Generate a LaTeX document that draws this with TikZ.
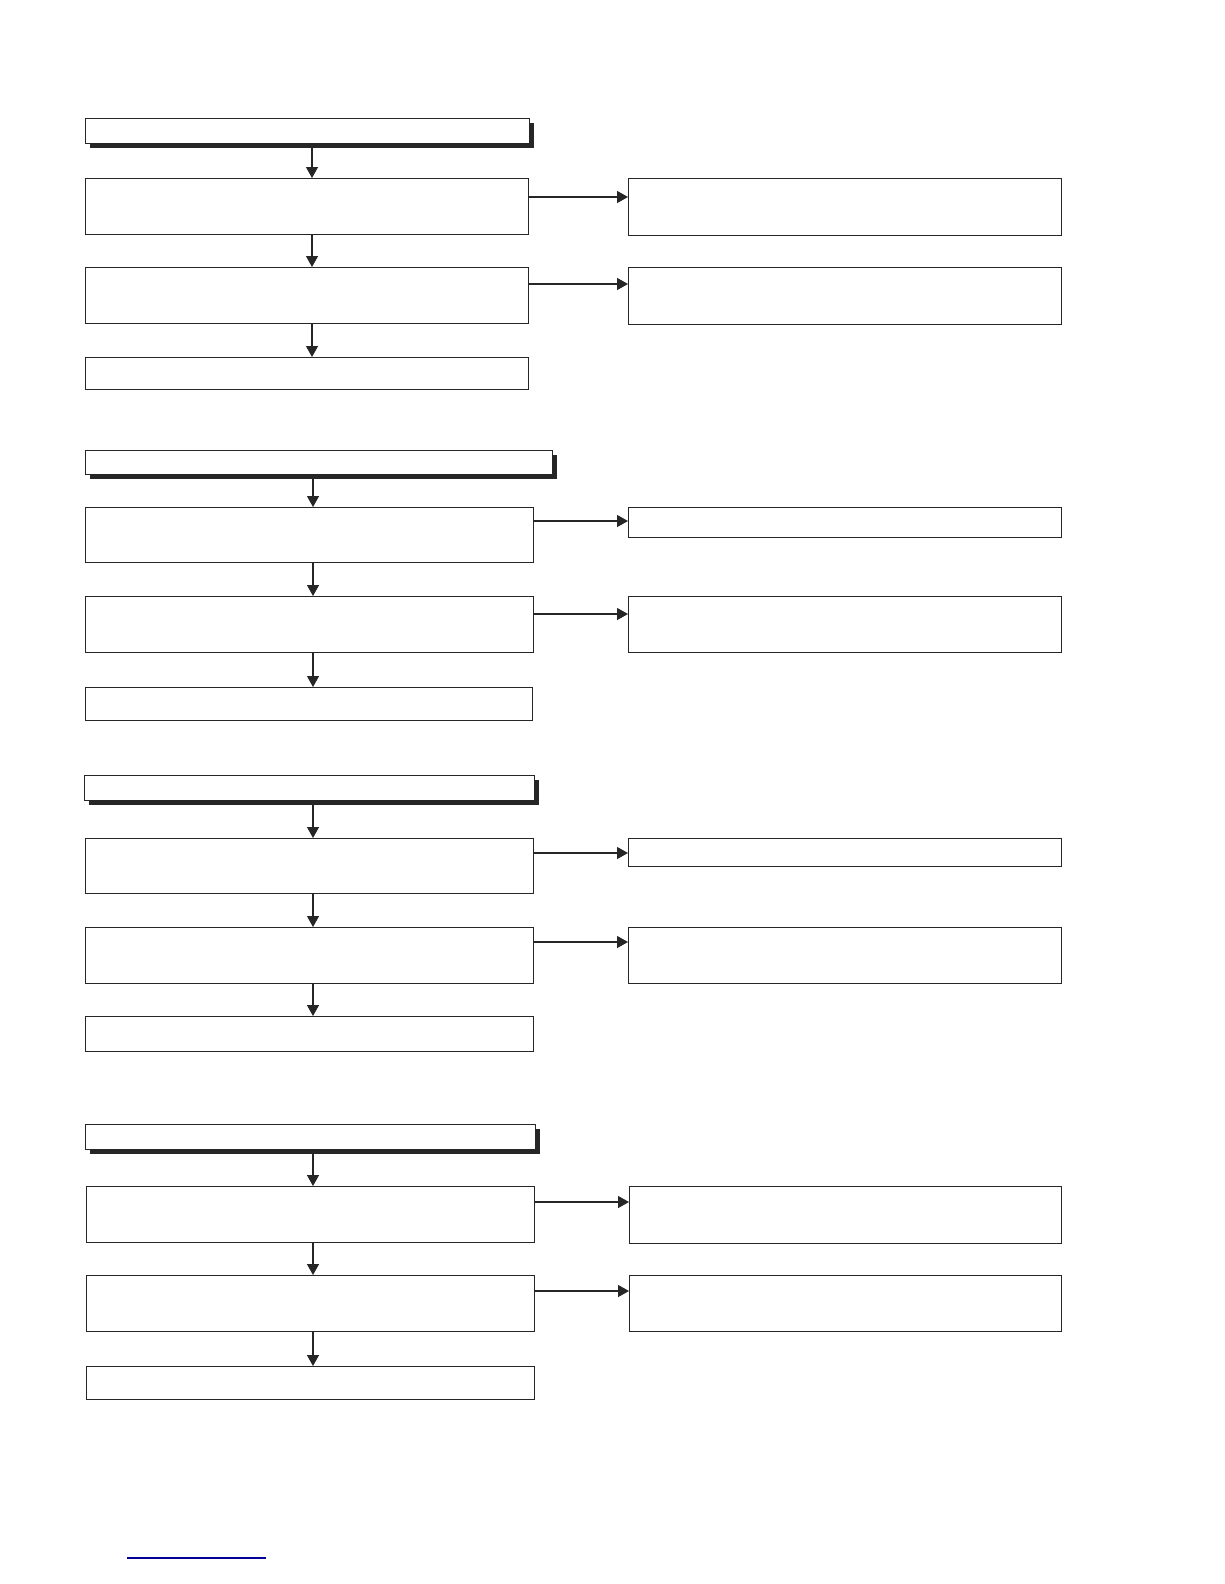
\documentclass[tikz,border=0pt]{standalone}
\usetikzlibrary{arrows.meta,shadows}
\tikzset{
  box/.style={draw=black!85,line width=1.4pt,fill=white,anchor=north west,inner sep=0pt},
  headbox/.style={box,drop shadow={shadow xshift=4pt,shadow yshift=-4.5pt,fill=black!85,opacity=1}},
  arr/.style={draw=black!85,line width=1.3pt,-{Triangle[length=11pt,width=12pt]}}
}
\begin{document}
\begin{tikzpicture}[x=1pt,y=-1pt]
            \useasboundingbox (0,0) rectangle (1224,1584);
            %第一组
            \node[headbox,minimum width=444pt,minimum height=25pt] (h1) at (85,118) {};
            \node[box,minimum width=443pt,minimum height=56pt] (a1) at (85,178) {};
            \node[box,minimum width=433pt,minimum height=57pt] (r1) at (628,178) {};
            \node[box,minimum width=443pt,minimum height=56pt] (a2) at (85,267) {};
            \node[box,minimum width=433pt,minimum height=57pt] (r2) at (628,267) {};
            \node[box,minimum width=443pt,minimum height=32pt] (a3) at (85,357) {};
            \coordinate (s1) at (312,0);
            \draw [arr] (h1.south -| s1) -- (a1.north -| s1);
            \draw [arr] (a1.south -| s1) -- (a2.north -| s1);
            \draw [arr] (a2.south -| s1) -- (a3.north -| s1);
            \draw [arr] ([yshift=-19]a1.north east) -- ([yshift=-19]r1.north west);
            \draw [arr] ([yshift=-17]a2.north east) -- ([yshift=-17]r2.north west);
            %第二组
            \node[headbox,minimum width=467pt,minimum height=24pt] (h2) at (85,450) {};
            \node[box,minimum width=448pt,minimum height=55pt] (b1) at (85,507) {};
            \node[box,minimum width=433pt,minimum height=30pt] (q1) at (628,507) {};
            \node[box,minimum width=448pt,minimum height=56pt] (b2) at (85,596) {};
            \node[box,minimum width=433pt,minimum height=56pt] (q2) at (628,596) {};
            \node[box,minimum width=447pt,minimum height=33pt] (b3) at (85,687) {};
            \coordinate (s2) at (313,0);
            \draw [arr] (h2.south -| s2) -- (b1.north -| s2);
            \draw [arr] (b1.south -| s2) -- (b2.north -| s2);
            \draw [arr] (b2.south -| s2) -- (b3.north -| s2);
            \draw [arr] ([yshift=-14]b1.north east) -- ([yshift=-14]q1.north west);
            \draw [arr] ([yshift=-18]b2.north east) -- ([yshift=-18]q2.north west);
            %第三组
            \node[headbox,minimum width=450pt,minimum height=25pt] (h3) at (84,775) {};
            \node[box,minimum width=448pt,minimum height=55pt] (c1) at (85,838) {};
            \node[box,minimum width=433pt,minimum height=28pt] (p1) at (628,838) {};
            \node[box,minimum width=448pt,minimum height=56pt] (c2) at (85,927) {};
            \node[box,minimum width=433pt,minimum height=56pt] (p2) at (628,927) {};
            \node[box,minimum width=448pt,minimum height=35pt] (c3) at (85,1016) {};
            \coordinate (s3) at (313,0);
            \draw [arr] (h3.south -| s3) -- (c1.north -| s3);
            \draw [arr] (c1.south -| s3) -- (c2.north -| s3);
            \draw [arr] (c2.south -| s3) -- (c3.north -| s3);
            \draw [arr] ([yshift=-15]c1.north east) -- ([yshift=-15]p1.north west);
            \draw [arr] ([yshift=-15]c2.north east) -- ([yshift=-15]p2.north west);
            %第四组
            \node[headbox,minimum width=450pt,minimum height=25pt] (h4) at (85,1124) {};
            \node[box,minimum width=448pt,minimum height=56pt] (d1) at (86,1186) {};
            \node[box,minimum width=432pt,minimum height=57pt] (e1) at (629,1186) {};
            \node[box,minimum width=448pt,minimum height=56pt] (d2) at (86,1275) {};
            \node[box,minimum width=432pt,minimum height=56pt] (e2) at (629,1275) {};
            \node[box,minimum width=448pt,minimum height=33pt] (d3) at (86,1366) {};
            \coordinate (s4) at (313,0);
            \draw [arr] (h4.south -| s4) -- (d1.north -| s4);
            \draw [arr] (d1.south -| s4) -- (d2.north -| s4);
            \draw [arr] (d2.south -| s4) -- (d3.north -| s4);
            \draw [arr] ([yshift=-16]d1.north east) -- ([yshift=-16]e1.north west);
            \draw [arr] ([yshift=-16]d2.north east) -- ([yshift=-16]e2.north west);
            %底部蓝线
            \draw [blue!60!black,line width=1.5pt] (127,1558) -- (266,1558);
\end{tikzpicture}
\end{document}
